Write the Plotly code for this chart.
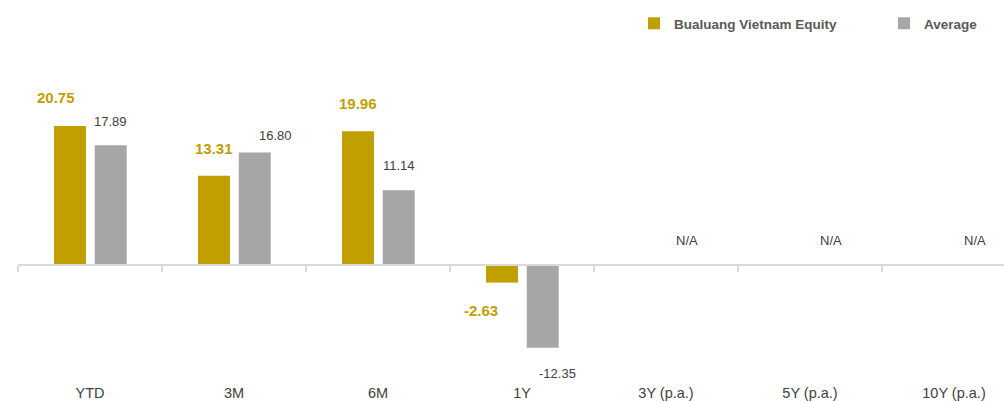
import plotly.graph_objects as go

# ---- data ----
categories = ["YTD", "3M", "6M", "1Y", "3Y (p.a.)", "5Y (p.a.)", "10Y (p.a.)"]
fund_name = "Bualuang Vietnam Equity"
avg_name = "Average"
fund_values = [20.75, 13.31, 19.96, -2.63, None, None, None]
avg_values = [17.89, 16.80, 11.14, -12.35, None, None, None]
na_text = "N/A"

# ---- style ----
GOLD = "#BFA000"
GREY = "#A6A6A6"
AXIS = "#D9D9D9"
TEXT = "#404040"
FONT = "Arial, Liberation Sans, sans-serif"

BAR_W = 0.222
FUND_OFF = -0.25
AVG_OFF = 0.033

# per-label nudges (pixels) to mimic the reference placement
fund_dx = [-13.5, 0, 0, -21]
fund_dy = [28, 27, 28, -28]
avg_dx = [0, 21, 0, 15]
avg_dy = [24, 17, 25, -26]

W, H = 1004, 402
ML, MR, MT, MB = 18, 0, 20, 20
plot_w = W - ML - MR
plot_h = H - MT - MB
zero_px = 265 - MT  # zero line, pixels below plot top
px_per_unit = 6.7
y_max = zero_px / px_per_unit
y_min = -(plot_h - zero_px) / px_per_unit
x_max = -0.5 + plot_w / 144.0


def px_to_paper_x(win_x):
    return (win_x - ML) / plot_w


fig = go.Figure()
fig.add_trace(go.Bar(
    x=categories, y=fund_values, name=fund_name,
    marker=dict(color=GOLD, line=dict(width=0)),
    width=BAR_W, offset=FUND_OFF, xaxis="x", yaxis="y",
    hoverinfo="skip", legend="legend",
))
fig.add_trace(go.Bar(
    x=categories, y=avg_values, name=avg_name,
    marker=dict(color=GREY, line=dict(width=0)),
    width=BAR_W, offset=AVG_OFF, xaxis="x2", yaxis="y",
    hoverinfo="skip", legend="legend2",
))

annotations = []
fund_center = FUND_OFF + BAR_W / 2
avg_center = AVG_OFF + BAR_W / 2
for i, v in enumerate(fund_values):
    if v is None:
        continue
    annotations.append(dict(
        x=i + fund_center, y=v, xref="x", yref="y", text=f"{v:.2f}",
        showarrow=False, xanchor="center", yanchor="middle",
        xshift=fund_dx[i], yshift=fund_dy[i],
        font=dict(family=FONT, size=15, color=GOLD, weight="bold"),
    ))
for i, v in enumerate(avg_values):
    if v is None:
        annotations.append(dict(
            x=i + avg_center, y=0, xref="x", yref="y", text=na_text,
            showarrow=False, xanchor="center", yanchor="middle",
            yshift=25, font=dict(family=FONT, size=13, color=TEXT),
        ))
        continue
    annotations.append(dict(
        x=i + avg_center, y=v, xref="x", yref="y", text=f"{v:.2f}",
        showarrow=False, xanchor="center", yanchor="middle",
        xshift=avg_dx[i], yshift=avg_dy[i],
        font=dict(family=FONT, size=13, color=TEXT),
    ))

legend_font = dict(family=FONT, size=13.5, color="#595959", weight="bold")
legend_y = 1 + 12 / plot_h

fig.update_layout(
    width=W, height=H,
    margin=dict(l=ML, r=MR, t=MT, b=MB, autoexpand=False),
    paper_bgcolor="white", plot_bgcolor="white",
    font=dict(family=FONT, color=TEXT),
    barmode="overlay",
    showlegend=True,
    legend=dict(
        orientation="h", x=px_to_paper_x(634), xanchor="left",
        y=legend_y, yanchor="top", font=legend_font,
        bgcolor="rgba(0,0,0,0)",
    ),
    legend2=dict(
        orientation="h", x=px_to_paper_x(884), xanchor="left",
        y=legend_y, yanchor="top", font=legend_font,
        bgcolor="rgba(0,0,0,0)",
    ),
    xaxis=dict(
        type="category", categoryorder="array", categoryarray=categories,
        range=[-0.5, x_max], showline=False, showgrid=False, zeroline=False,
        ticks="", tickfont=dict(family=FONT, size=14.5, color=TEXT),
        fixedrange=True,
    ),
    xaxis2=dict(
        type="category", categoryorder="array", categoryarray=categories,
        overlaying="x", matches="x", anchor="free",
        position=(plot_h - zero_px) / plot_h,
        showline=True, linecolor=AXIS, linewidth=2,
        ticks="outside", ticklen=6, tickwidth=2, tickcolor=AXIS,
        tickson="boundaries", showticklabels=False, showgrid=False,
        zeroline=False,
    ),
    yaxis=dict(
        range=[y_min, y_max], showgrid=False, zeroline=False,
        showticklabels=False, ticks="", showline=False, fixedrange=True,
    ),
    annotations=annotations,
    hovermode=False,
)

fig.write_html(
    "out.html",
    config={"displayModeBar": False, "staticPlot": True},
    post_script="document.body.style.margin='0';document.body.style.overflow='hidden';",
)
